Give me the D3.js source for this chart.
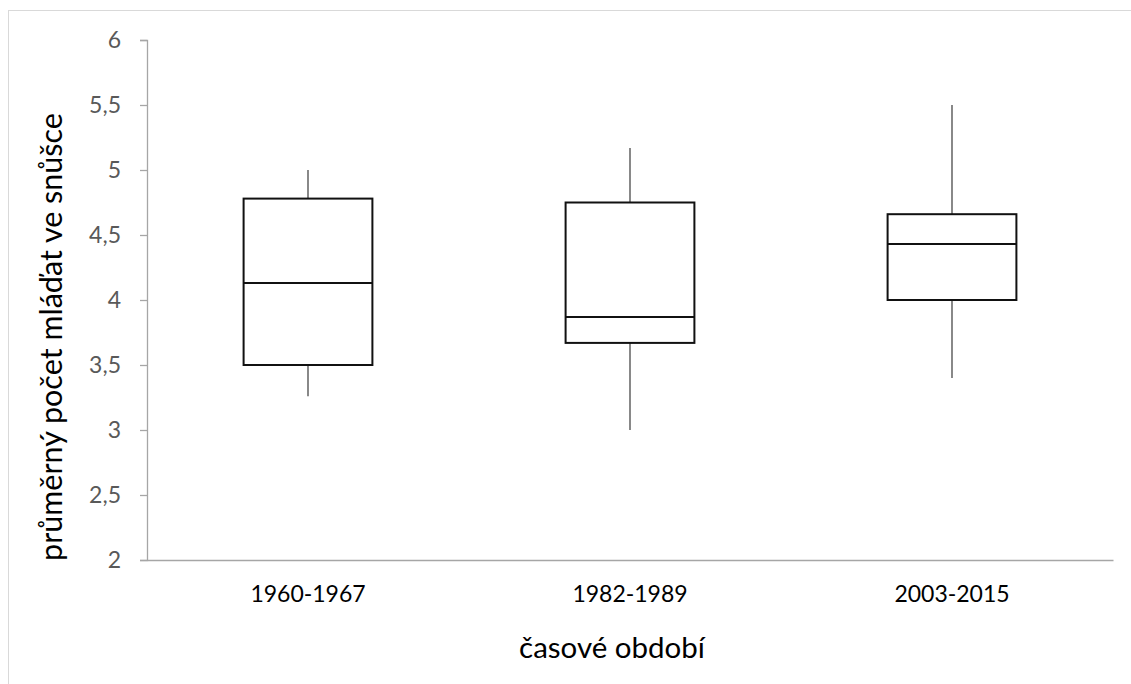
<!DOCTYPE html>
<html>
<head>
<meta charset="utf-8">
<script src="https://cdn.jsdelivr.net/npm/d3@7"></script>
<style>
  html, body { margin: 0; padding: 0; background: #fff; }
  svg { display: block; }
</style>
</head>
<body>
<svg id="chart" width="1131" height="684"></svg>
<script>
const categories = ["1960-1967", "1982-1989", "2003-2015"];
const whiskerLow  = [3.26, 3.0, 3.40];
const q1          = [3.50, 3.67, 4.00];
const median      = [4.13, 3.87, 4.43];
const q3          = [4.78, 4.75, 4.66];
const whiskerHigh = [5.0, 5.17, 5.5];
const yTicks = [2, 2.5, 3, 3.5, 4, 4.5, 5, 5.5, 6];
const yLabel = "průměrný počet mláďat ve snůšce";
const xLabel = "časové období";

(function () {
const svg = d3.select("#chart");
const font = "Lato, 'Open Sans', sans-serif";

// outer chart border
svg.append("rect")
  .attr("x", 8.5).attr("y", 10.5)
  .attr("width", 1140).attr("height", 700)
  .attr("fill", "none").attr("stroke", "#d9d9d9").attr("stroke-width", 1);

const mLeft = 147, mRight = 1113, mTop = 40, mBottom = 560;

const x = d3.scaleBand().domain(categories).range([mLeft, mRight]).padding(0);
const y = d3.scaleLinear().domain([2, 6]).range([mBottom, mTop]);

// y axis
const yAxis = svg.append("g").attr("transform", `translate(${mLeft},0)`)
  .call(d3.axisLeft(y).tickValues(yTicks).tickSize(7).tickPadding(19)
    .tickFormat(d => String(d).replace(".", ",")));
yAxis.select(".domain").attr("stroke", "#a6a6a6").attr("stroke-width", 1.3);
yAxis.selectAll(".tick line").attr("stroke", "#a6a6a6").attr("stroke-width", 1.3);
yAxis.selectAll(".tick text").attr("fill", "#595959")
  .style("font-family", font).style("font-size", "23px");

// x axis
const xAxis = svg.append("g").attr("transform", `translate(0,${mBottom})`)
  .call(d3.axisBottom(x).tickSize(0).tickPadding(26));
xAxis.select(".domain").attr("stroke", "#a6a6a6").attr("stroke-width", 1.3);
xAxis.selectAll(".tick text").attr("fill", "#000")
  .style("font-family", font).style("font-size", "23px");

const boxW = x.bandwidth() * 0.4;
const data = categories.map((c, i) => ({
  c, lo: whiskerLow[i], q1: q1[i], med: median[i], q3: q3[i], hi: whiskerHigh[i]
}));

const g = svg.append("g");
const boxes = g.selectAll("g.box").data(data).join("g").attr("class", "box");
const cx = d => x(d.c) + x.bandwidth() / 2;

// whiskers
boxes.append("line")
  .attr("x1", cx).attr("x2", cx)
  .attr("y1", d => y(d.q3)).attr("y2", d => y(d.hi))
  .attr("stroke", "#6b6b6b").attr("stroke-width", 1.6);
boxes.append("line")
  .attr("x1", cx).attr("x2", cx)
  .attr("y1", d => y(d.q1)).attr("y2", d => y(d.lo))
  .attr("stroke", "#6b6b6b").attr("stroke-width", 1.6);

// box
boxes.append("rect")
  .attr("x", d => cx(d) - boxW / 2).attr("width", boxW)
  .attr("y", d => y(d.q3)).attr("height", d => y(d.q1) - y(d.q3))
  .attr("fill", "#fff").attr("stroke", "#111").attr("stroke-width", 2);
// median
boxes.append("line")
  .attr("x1", d => cx(d) - boxW / 2).attr("x2", d => cx(d) + boxW / 2)
  .attr("y1", d => y(d.med)).attr("y2", d => y(d.med))
  .attr("stroke", "#111").attr("stroke-width", 2);

// axis titles
svg.append("text")
  .attr("transform", "translate(62,337) rotate(-90)")
  .attr("text-anchor", "middle")
  .style("font-family", font).style("font-size", "30.5px").attr("fill", "#000")
  .text(yLabel);
svg.append("text")
  .attr("x", 612).attr("y", 658)
  .attr("text-anchor", "middle")
  .style("font-family", font).style("font-size", "29.5px").attr("fill", "#000")
  .text(xLabel);
})();
</script>
</body>
</html>
